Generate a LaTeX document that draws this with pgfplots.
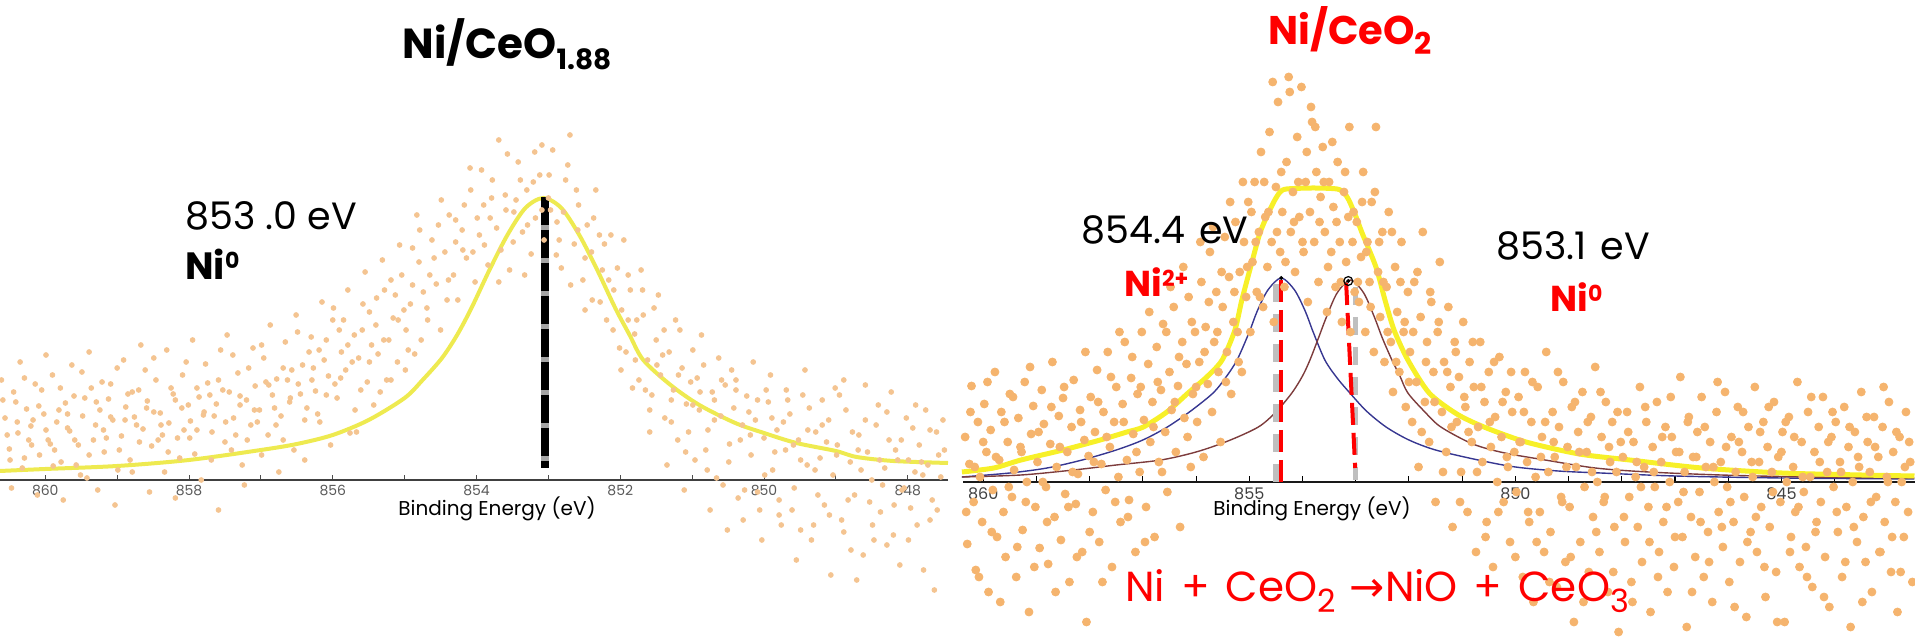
\documentclass[border=0pt]{standalone}
\usepackage{pgfplots}
\pgfplotsset{compat=1.18}
\usepackage{fontspec}
\setmainfont{Poppins}
\newfontfamily\djv{DejaVu Sans}
\definecolor{dotL}{RGB}{244,196,145}
\definecolor{dotR}{RGB}{245,180,110}
\definecolor{yel}{RGB}{247,240,40}
\definecolor{yelL}{RGB}{238,234,80}
\definecolor{niblue}{RGB}{55,55,145}
\definecolor{nibrown}{RGB}{125,60,60}
\definecolor{rd}{RGB}{255,0,0}

\begin{document}
\begin{tikzpicture}[x=1pt,y=1pt]
\useasboundingbox (0,0) rectangle (957.5,320.5);

% ---------- left panel: Ni/CeO1.88 ----------
\begin{axis}[
  at={(0pt,80.5pt)}, anchor=south west,
  scale only axis, width=474pt, height=240pt,
  xmin=847.44, xmax=860.63, ymin=0, ymax=480,
  x dir=reverse, clip=false,
  axis x line*=bottom, axis y line=none, ytick=\empty,
  axis line style={black!75, line width=0.8pt},
  xtick={848,850,...,860}, minor xtick={849,851,...,859},
  tick align=inside, major tick length=2.5pt, minor tick length=2.5pt,
  tick style={black!70, line width=0.5pt},
  xticklabel style={font=\fontsize{7}{7}\selectfont, text=black!65, inner sep=0pt, yshift=-2.5pt, anchor=north},
  /pgf/number format/assume math mode=true,
]
\addplot[only marks, mark=*, mark size=1.2pt, color=dotL] coordinates {
(860.56,62)(860.50,31)(860.44,88)(860.38,47)(860.32,12)(860.26,71)(860.20,54)(860.14,96)(860.08,25)(860.02,66)
(859.96,40)(859.90,105)(859.84,58)(859.78,18)(859.72,77)(859.66,49)(859.60,84)(859.54,35)(859.48,64)(859.42,2)
(859.36,92)(859.30,55)(859.24,70)(859.18,28)(859.12,81)(859.06,60)(859.00,112)(858.94,44)(858.88,73)(858.82,20)
(858.76,63)(858.70,90)(858.64,51)(858.58,79)(858.52,34)(858.46,100)(858.40,67)(858.34,8)(858.28,57)(858.22,86)
(858.16,42)(858.10,72)(858.04,118)(857.98,59)(857.92,26)(857.86,83)(857.80,65)(857.74,97)(857.68,48)(857.62,76)
(857.56,130)(857.50,38)(857.44,88)(857.38,62)(857.32,107)(857.26,15)(857.20,80)(857.14,55)(857.08,94)(857.02,70)
(856.96,122)(856.90,45)(856.84,85)(856.78,101)(856.72,64)(856.66,138)(856.60,78)(856.54,30)(856.48,96)(856.42,115)
(856.36,72)(856.30,143)(856.24,89)(856.18,58)(856.12,120)(856.06,104)(856.00,160)(855.94,82)(855.88,128)(855.82,110)
(855.76,47)(855.70,145)(855.64,122)(855.58,176)(855.52,98)(855.46,135)(855.40,155)(855.34,88)(855.28,190)(855.22,140)
(855.16,162)(855.10,118)(855.04,205)(854.98,150)(854.92,176)(854.86,126)(854.80,218)(854.74,188)(854.68,160)(854.62,240)
(854.56,196)(854.50,150)(854.44,228)(854.38,265)(854.32,205)(854.26,180)(854.20,250)(854.14,222)(854.08,290)(854.02,198)
(853.96,245)(853.90,275)(853.84,215)(853.78,300)(853.72,252)(853.66,230)(853.60,285)(853.54,210)(853.48,268)(853.42,318)
(853.36,248)(853.30,290)(853.24,226)(853.18,262)(853.12,305)(853.06,240)(853.00,282)(852.94,330)(852.88,258)(852.82,212)
(852.76,300)(852.70,345)(852.64,236)(852.58,275)(852.52,200)(852.46,255)(852.40,228)(852.34,290)(852.28,178)(852.22,236)
(852.16,200)(852.10,150)(852.04,212)(851.98,170)(851.92,128)(851.86,190)(851.80,146)(851.74,100)(851.68,165)(851.62,120)
(851.56,85)(851.50,140)(851.44,105)(851.38,62)(851.32,128)(851.26,90)(851.20,40)(851.14,112)(851.08,76)(851.02,98)
(850.96,20)(850.90,70)(850.84,115)(850.78,50)(850.72,88)(850.66,2)(850.60,64)(850.54,95)(850.48,36)(850.42,72)
(850.36,-18)(850.30,55)(850.24,84)(850.18,25)(850.12,60)(850.06,-30)(850.00,42)(849.94,78)(849.88,10)(849.82,50)
(849.76,-45)(849.70,30)(849.64,66)(849.58,-8)(849.52,40)(849.46,85)(849.40,15)(849.34,-60)(849.28,48)(849.22,22)
(849.16,-25)(849.10,60)(849.04,5)(848.98,35)(848.92,-40)(848.86,70)(848.80,18)(848.74,-15)(848.68,45)(848.62,-75)
(848.56,28)(848.50,0)(848.44,55)(848.38,-32)(848.32,12)(848.26,40)(848.20,-55)(848.14,20)(848.08,-10)(848.02,62)
(847.96,-28)(847.90,8)(847.84,35)(847.78,-90)(847.72,15)(847.66,-20)(847.60,48)(847.54,3)
(860.53,45)(860.41,78)(860.29,22)(860.17,60)(860.05,90)(859.93,36)(859.81,70)(859.69,52)(859.57,15)(859.45,82)
(859.33,40)(859.21,98)(859.09,63)(858.97,30)(858.85,86)(858.73,55)(858.61,110)(858.49,68)(858.37,45)(858.25,92)
(858.13,22)(858.01,75)(857.89,50)(857.77,116)(857.65,64)(857.53,90)(857.41,30)(857.29,75)(857.17,112)(857.05,58)
(856.93,98)(856.81,72)(856.69,40)(856.57,110)(856.45,86)(856.33,128)(856.21,66)(856.09,140)(855.97,96)(855.85,160)
(855.73,118)(855.61,90)(855.49,168)(855.37,126)(855.25,100)(855.13,185)(855.01,170)(854.89,232)(854.77,140)(854.65,205)
(854.53,255)(854.41,180)(854.29,238)(854.17,275)(854.05,228)(853.93,310)(853.81,262)(853.69,198)(853.57,326)(853.45,280)
(853.33,205)(853.21,298)(853.09,335)(852.97,270)(852.85,240)(852.73,315)(852.61,290)(852.49,170)(852.37,262)(852.25,210)
(852.13,245)(852.01,132)(851.89,205)(851.77,160)(851.65,90)(851.53,172)(851.41,125)(851.29,58)(851.17,150)(851.05,48)
(850.93,102)(850.81,30)(850.69,80)(850.57,-5)(850.45,110)(850.33,40)(850.21,68)(850.09,-12)(849.97,90)(849.85,28)
(849.73,58)(849.61,-30)(849.49,20)(849.37,72)(849.25,-15)(849.13,38)(849.01,92)(848.89,-52)(848.77,48)(848.65,10)
(848.53,-22)(848.41,75)(848.29,-65)(848.17,30)(848.05,-8)(847.93,52)(847.81,18)(847.69,-40)(847.57,25)
(860.59,80)(860.49,20)(860.39,58)(860.29,102)(860.19,35)(860.09,74)(859.99,50)(859.89,14)(859.79,92)(859.69,66)
(859.59,40)(859.49,108)(859.39,25)(859.29,78)(859.19,50)(859.09,96)(858.99,10)(858.89,60)(858.79,88)(858.69,38)
(858.59,72)(858.49,122)(858.39,55)(858.29,28)(858.19,80)(858.09,105)(857.99,42)(857.89,92)(857.79,68)(857.69,20)
(857.59,100)(857.49,58)(857.39,125)(857.29,84)(857.19,40)(857.09,70)(856.99,135)(856.89,95)(856.79,55)(856.69,112)
(856.59,82)(856.49,148)(856.39,60)(856.29,100)(856.19,130)(856.09,85)(855.99,172)(855.89,102)(855.79,135)(855.69,70)
(855.59,150)(855.49,118)(855.39,182)(855.29,140)(855.19,200)(855.09,160)(854.99,110)(854.89,195)(854.79,250)(854.69,172)
(854.59,222)(854.49,280)(854.39,200)(854.29,260)(854.19,230)(854.09,312)(853.99,262)(853.89,235)(853.79,282)(853.69,340)
(853.59,270)(853.49,238)(853.39,300)(853.29,255)(853.19,328)(853.09,270)(852.99,305)(852.89,225)(852.79,268)(852.69,195)
(852.59,250)(852.49,222)(852.39,180)(852.29,245)(852.19,160)(852.09,190)(851.99,110)(851.89,160)(851.79,120)(851.69,190)
(851.59,70)(851.49,115)(851.39,150)(851.29,80)(851.19,105)(851.09,28)(850.99,130)(850.89,88)(850.79,10)(850.69,60)
(850.59,100)(850.49,18)(850.39,90)(850.29,-40)(850.19,45)(850.09,80)(849.99,5)(849.89,62)(849.79,-20)(849.69,90)
(849.59,35)(849.49,-50)(849.39,50)(849.29,10)(849.19,80)(849.09,-35)(848.99,25)(848.89,100)(848.79,-70)(848.69,30)
(848.59,60)(848.49,-45)(848.39,20)(848.29,68)(848.19,-25)(848.09,40)(847.99,-60)(847.89,75)(847.79,5)(847.69,50)
(847.59,-30)(847.49,30)
(860.61,100)(860.47,-8)(860.35,118)(860.23,40)(860.11,-15)(859.99,125)(859.87,30)(859.75,-20)(859.63,115)(859.51,5)
(859.39,128)(859.27,-10)(859.15,42)(859.03,-25)(858.91,120)(858.79,8)(858.67,135)(858.55,-12)(858.43,40)(858.31,130)
(858.19,-18)(858.07,50)(857.95,140)(857.83,0)(857.71,85)(857.59,-30)(857.47,145)(857.35,45)(857.23,-5)(857.11,132)
(856.99,25)(856.87,155)(856.75,8)(856.63,100)(856.51,165)(856.39,20)(856.27,112)(856.15,178)(856.03,35)(855.91,150)
(855.79,190)(855.67,48)(855.55,208)(855.43,75)(855.31,220)(855.19,100)(855.07,235)(854.95,130)(854.83,265)
(851.95,240)(851.83,92)(851.71,210)(851.59,48)(851.47,185)(851.35,15)(851.23,160)(851.11,-10)(850.99,75)(850.87,145)
(850.75,-30)(850.63,122)(850.51,-50)(850.39,100)(850.27,-10)(850.15,118)(850.03,-60)(849.91,105)(849.79,-35)(849.67,80)
(849.55,-80)(849.43,110)(849.31,-45)(849.19,55)(849.07,-95)(848.95,85)(848.83,-20)(848.71,-100)(848.59,95)(848.47,-60)
(848.35,-5)(848.23,88)(848.11,-85)(847.99,20)(847.87,-45)(847.75,70)(847.63,-110)(847.51,60)
};
% fitted envelope
\addplot[yelL, line width=2pt, smooth, tension=0.5] coordinates {
(860.63,9)(860.0,11)(859.0,14)(858.0,20)(857.0,30)(856.5,36)(856.0,45)(855.5,60)(855.0,82)(854.75,100)
(854.48,122)(854.27,145)(854.07,172)(853.82,210)(853.57,245)(853.32,272)(853.07,282)(852.82,272)(852.57,245)
(852.32,210)(852.07,172)(851.87,145)(851.68,120)(851.3,95)(850.9,75)(850.4,57)(850.0,47)(849.55,37)(849.0,29)
(848.71,23)(848.2,19)(847.44,17)
};
% peak marker
\addplot[black!35, line width=4pt] coordinates {(853.05,283)(853.05,12)};
\addplot[black, line width=4pt, dash pattern=on 14pt off 2.5pt] coordinates {(853.05,283)(853.05,12)};
\end{axis}

% ---------- right panel: Ni/CeO2 ----------
\begin{axis}[
  at={(481.5pt,79.5pt)}, anchor=south west,
  scale only axis, width=476pt, height=241pt,
  xmin=842.49, xmax=860.38, ymin=0, ymax=482,
  x dir=reverse, clip=false,
  axis x line*=bottom, axis y line=none, ytick=\empty,
  axis line style={black!90, line width=1.3pt},
  xtick={845,850,855,860}, minor xtick={843,844,846,847,848,849,851,852,853,854,856,857,858,859},
  tick align=inside, major tick length=3.2pt, minor tick length=3.2pt,
  tick style={black, line width=0.55pt},
  xticklabel style={font=\fontsize{8}{8}\selectfont, text=black!75, inner sep=0pt, yshift=-2.5pt, anchor=north},
  /pgf/number format/assume math mode=true,
]
\addplot[only marks, mark=*, mark size=2pt, color=dotR] coordinates {
(860.34,45)(860.30,-62)(860.26,18)(860.22,96)(860.18,-20)(860.14,-88)(860.10,60)(860.06,5)(860.02,-40)(859.98,78)
(859.94,30)(859.90,-110)(859.86,52)(859.82,-8)(859.78,110)(859.74,-55)(859.70,22)(859.66,70)(859.62,-30)(859.58,-75)
(859.54,40)(859.50,88)(859.46,-15)(859.42,12)(859.38,-95)(859.34,64)(859.30,35)(859.26,-48)(859.22,100)(859.18,0)
(859.14,-130)(859.10,48)(859.06,76)(859.02,-25)(858.98,20)(858.94,-66)(858.90,92)(858.86,58)(858.82,-5)(858.78,-82)
(858.74,38)(858.70,120)(858.66,-35)(858.62,15)(858.58,66)(858.54,-58)(858.50,84)(858.46,-12)(858.42,30)(858.38,-100)
(858.34,55)(858.30,102)(858.26,-22)(858.22,8)(858.18,72)(858.14,-70)(858.10,42)(858.06,-140)(858.02,26)
(857.98,85)(857.94,-30)(857.90,50)(857.86,112)(857.82,-60)(857.78,18)(857.74,70)(857.70,-8)(857.66,130)(857.62,35)
(857.58,-85)(857.54,60)(857.50,95)(857.46,5)(857.42,-40)(857.38,78)(857.34,140)(857.30,22)(857.26,-18)(857.22,104)
(857.18,48)(857.14,-70)(857.10,88)(857.06,10)(857.02,150)(856.98,62)(856.94,-25)(856.90,118)(856.86,40)(856.82,80)
(856.78,-55)(856.74,135)(856.70,20)(856.66,92)(856.62,158)(856.58,50)(856.54,-10)(856.50,110)(856.46,72)(856.42,175)
(856.38,30)(856.34,96)(856.30,-45)(856.26,140)(856.22,64)(856.18,118)(856.14,185)(856.10,15)(856.06,88)(856.02,150)
(855.98,60)(855.94,120)(855.90,200)(855.86,25)(855.82,155)(855.78,98)(855.74,230)(855.70,70)(855.66,140)(855.62,190)
(855.58,110)(855.54,40)(855.50,175)(855.46,245)(855.42,130)(855.38,205)(855.34,88)(855.30,160)(855.26,260)(855.22,150)
(855.18,210)(855.14,110)(855.10,240)(855.06,185)(855.02,280)
(854.98,150)(854.94,220)(854.90,300)(854.86,190)(854.82,250)(854.78,330)(854.74,175)(854.70,265)(854.66,215)(854.62,350)
(854.58,240)(854.54,160)(854.50,295)(854.46,380)(854.42,230)(854.38,270)(854.34,195)(854.30,320)(854.26,405)(854.22,250)
(854.18,290)(854.14,210)(854.10,345)(854.06,265)(854.02,395)(853.98,230)(853.94,300)(853.90,180)(853.86,270)(853.82,360)
(853.78,240)(853.74,310)(853.70,200)(853.66,285)(853.62,335)(853.58,250)(853.54,170)(853.50,300)(853.46,230)(853.42,275)
(853.38,195)(853.34,320)(853.30,240)(853.26,160)(853.22,290)(853.18,220)(853.14,265)(853.10,150)(853.06,240)(853.02,190)
(852.98,260)(852.94,180)(852.90,225)(852.86,310)(852.82,150)(852.78,240)(852.74,200)(852.70,280)(852.66,130)(852.62,355)
(852.58,210)(852.54,165)(852.50,250)(852.46,120)(852.42,195)(852.38,270)(852.34,140)(852.30,90)(852.26,215)(852.22,170)
(852.18,110)(852.14,240)(852.10,150)(852.06,75)(852.02,190)
(851.98,130)(851.94,60)(851.90,200)(851.86,100)(851.82,15)(851.78,165)(851.74,250)(851.70,80)(851.66,140)(851.62,40)
(851.58,180)(851.54,110)(851.50,-20)(851.46,150)(851.42,220)(851.38,70)(851.34,120)(851.30,30)(851.26,175)(851.22,95)
(851.18,-45)(851.14,140)(851.10,60)(851.06,105)(851.02,10)(850.98,160)(850.94,75)(850.90,-30)(850.86,120)(850.82,40)
(850.78,95)(850.74,-70)(850.70,55)(850.66,140)(850.62,20)(850.58,80)(850.54,-40)(850.50,110)(850.46,35)(850.42,-85)
(850.38,65)(850.34,0)(850.30,125)(850.26,45)(850.22,-20)(850.18,90)(850.14,15)(850.10,-60)(850.06,70)(850.02,30)
(849.98,-10)(849.94,85)(849.90,40)(849.86,-95)(849.82,110)(849.78,20)(849.74,-40)(849.70,60)(849.66,-120)(849.62,5)
(849.58,95)(849.54,-30)(849.50,45)(849.46,-70)(849.42,130)(849.38,10)(849.34,-50)(849.30,70)(849.26,25)(849.22,-105)
(849.18,55)(849.14,-15)(849.10,100)(849.06,-80)(849.02,35)(848.98,-25)(848.94,75)(848.90,-140)(848.86,15)(848.82,50)
(848.78,-60)(848.74,90)(848.70,-5)(848.66,30)(848.62,-90)(848.58,65)(848.54,-35)(848.50,115)(848.46,0)(848.42,-70)
(848.38,45)(848.34,-20)(848.30,80)(848.26,-110)(848.22,20)(848.18,60)(848.14,-45)(848.10,10)(848.06,-150)(848.02,40)
(847.98,25)(847.94,-60)(847.90,70)(847.86,-15)(847.82,-100)(847.78,40)(847.74,5)(847.70,-45)(847.66,95)(847.62,-80)
(847.58,15)(847.54,60)(847.50,-25)(847.46,-130)(847.42,35)(847.38,-5)(847.34,80)(847.30,-70)(847.26,20)(847.22,-40)
(847.18,55)(847.14,-110)(847.10,0)(847.06,45)(847.02,-85)(846.98,30)(846.94,-20)(846.90,105)(846.86,-55)(846.82,10)
(846.78,-145)(846.74,65)(846.70,-35)(846.66,25)(846.62,-75)(846.58,50)(846.54,-10)(846.50,85)(846.46,-95)(846.42,15)
(846.38,-50)(846.34,40)(846.30,-120)(846.26,0)(846.22,70)(846.18,-30)(846.14,20)(846.10,-65)(846.06,90)(846.02,-5)
(845.98,-100)(845.94,45)(845.90,-40)(845.86,10)(845.82,75)(845.78,-80)(845.74,30)(845.70,-15)(845.66,-135)(845.62,55)
(845.58,-50)(845.54,5)(845.50,95)(845.46,-70)(845.42,20)(845.38,-25)(845.34,60)(845.30,-115)(845.26,35)(845.22,-45)
(845.18,10)(845.14,80)(845.10,-90)(845.06,25)(845.02,-20)(844.98,50)(844.94,-140)(844.90,0)(844.86,65)(844.82,-55)
(844.78,15)(844.74,-30)(844.70,100)(844.66,-85)(844.62,40)(844.58,-10)(844.54,-65)(844.50,70)(844.46,5)(844.42,-105)
(844.38,30)(844.34,-40)(844.30,55)(844.26,-20)(844.22,85)(844.18,-75)(844.14,10)(844.10,-125)(844.06,45)(844.02,-5)
(843.98,60)(843.94,-50)(843.90,20)(843.86,-95)(843.82,75)(843.78,-25)(843.74,35)(843.70,-145)(843.66,0)(843.62,50)
(843.58,-60)(843.54,15)(843.50,90)(843.46,-35)(843.42,-80)(843.38,40)(843.34,10)(843.30,-110)(843.26,65)(843.22,-15)
(843.18,25)(843.14,-70)(843.10,55)(843.06,-40)(843.02,5)(842.98,80)(842.94,-90)(842.90,30)(842.86,-20)(842.82,-130)
(842.78,45)(842.74,0)(842.70,-55)(842.66,70)(842.62,-30)(842.58,20)(842.54,-100)
(860.32,-30)(860.24,70)(860.16,15)(860.08,-95)(860.00,40)(859.92,100)(859.84,-50)(859.76,25)(859.68,-120)(859.60,60)
(859.52,-5)(859.44,85)(859.36,-65)(859.28,30)(859.20,-20)(859.12,115)(859.04,-85)(858.96,50)(858.88,0)(858.80,-40)
(858.72,75)(858.64,-110)(858.56,35)(858.48,95)(858.40,-25)(858.32,10)(858.24,-75)(858.16,60)(858.08,130)(858.00,-50)
(857.92,20)(857.84,80)(857.76,-100)(857.68,45)(857.60,105)(857.52,-20)(857.44,150)(857.36,60)(857.28,-35)(857.20,125)
(857.12,30)(857.04,95)(856.96,-60)(856.88,170)(856.80,55)(856.72,100)(856.64,10)(856.56,150)(856.48,195)(856.40,80)
(856.32,125)(856.24,215)(856.16,45)(856.08,160)(856.00,95)(855.92,240)(855.84,130)(855.76,180)(855.68,255)(855.60,150)
(855.52,210)(855.44,100)(855.36,280)(855.28,190)(855.20,120)(855.12,300)(855.04,215)(854.96,270)(854.88,240)(854.80,185)
(854.72,300)(854.64,270)(854.56,400)(854.48,250)(854.40,310)(854.32,220)(854.24,390)(854.16,260)(854.08,300)(854.00,240)
(853.92,330)(853.84,375)(853.76,355)(853.68,260)(853.60,300)(853.52,215)(853.44,340)(853.36,260)(853.28,200)(853.20,310)
(853.12,355)(853.04,270)(852.96,200)(852.88,280)(852.80,230)(852.72,175)(852.64,290)(852.56,240)(852.48,200)(852.40,150)
(852.32,250)(852.24,120)(852.16,200)(852.08,160)(852.00,100)(851.92,150)(851.84,210)(851.76,50)(851.68,120)(851.60,190)
(851.52,80)(851.44,160)(851.36,10)(851.28,110)(851.20,55)(851.12,130)(851.04,-20)(850.96,85)(850.88,50)(850.80,140)
(850.72,10)(850.64,95)(850.56,-55)(850.48,60)(850.40,120)(850.32,-30)(850.24,80)(850.16,25)(850.08,110)(850.00,-75)
(849.92,40)(849.84,70)(849.76,-30)(849.68,100)(849.60,-60)(849.52,25)(849.44,60)(849.36,-100)(849.28,40)(849.20,110)
(849.12,-20)(849.04,15)(848.96,-75)(848.88,80)(848.80,30)(848.72,-120)(848.64,60)(848.56,10)(848.48,-50)(848.40,90)
(848.32,-15)(848.24,35)(848.16,-90)(848.08,70)(847.96,-35)(847.88,50)(847.80,-120)(847.72,20)(847.64,-5)(847.56,75)
(847.48,-60)(847.40,10)(847.32,-95)(847.24,45)(847.16,-25)(847.08,85)(847.00,-55)(846.92,30)(846.84,-10)(846.76,60)
(846.68,-110)(846.60,25)(846.52,-40)(846.44,55)(846.36,-80)(846.28,15)(846.20,100)(846.12,-45)(846.04,35)(845.96,-20)
(845.88,-125)(845.80,40)(845.72,70)(845.64,-60)(845.56,20)(845.48,-35)(845.40,50)(845.32,-85)(845.24,75)(845.16,-10)
(845.08,-140)(845.00,30)(844.92,60)(844.84,-70)(844.76,45)(844.68,-25)(844.60,5)(844.52,-95)(844.44,85)(844.36,-50)
(844.28,20)(844.20,-115)(844.12,40)(844.04,70)(843.96,-30)(843.88,10)(843.80,-80)(843.72,55)(843.64,-45)(843.56,25)
(843.48,-120)(843.40,65)(843.32,-20)(843.24,35)(843.16,-70)(843.08,95)(843.00,0)(842.92,-55)(842.84,50)(842.76,-90)
(842.68,15)(842.60,40)
};
% Ni2+ component
\addplot[niblue, line width=0.7pt, smooth, tension=0.5] coordinates {
(860.4,5)(859.5,9)(858.8,14)(858.14,22)(857.5,32)(857.0,42)(856.54,55)(856.1,71)(855.68,89)(855.45,104)
(855.23,122)(855.0,150)(854.85,171)(854.65,192)(854.4,204)(854.15,192)(853.95,171)(853.8,150)(853.58,122)
(853.35,104)(853.11,89)(852.8,71)(852.43,55)(852.0,42)(851.5,32)(850.7,22)(850.0,15)(849.2,11)(848.4,9)
(847,6)(845,4)(842.5,3)
};
% Ni0 component
\addplot[nibrown, line width=0.7pt, smooth, tension=0.5] coordinates {
(860.4,5)(859.29,7)(858.3,12)(857.5,17)(856.66,22)(856.0,30)(855.4,41)(854.83,55)(854.5,70)(854.2,89)
(854.0,106)(853.86,122)(853.7,144)(853.55,165)(853.35,189)(853.1,202)(852.85,189)(852.65,165)(852.5,144)
(852.32,122)(852.17,106)(852.02,89)(851.7,70)(851.4,55)(850.8,38)(850.2,29)(849.44,22)(848.5,14)(847.5,10)
(846.14,7)(844.5,5)(842.5,4)
};
% envelope
\addplot[yel, line width=2.5pt, smooth, tension=0.45] coordinates {
(860.4,10)(859.8,14)(859.29,22)(858.5,32)(857.8,42)(857.3,50)(856.99,55)(856.55,70)(856.15,89)(855.8,105)
(855.51,122)(855.27,152)(855.14,182)(854.95,220)(854.80,249)(854.65,268)(854.52,282)(854.42,290)(854.30,293)
(853.80,294)(853.35,293)(853.22,289)(853.13,282)(853.0,266)(852.88,249)(852.62,215)(852.45,182)(852.28,152)
(852.02,122)(851.62,89)(851.1,68)(850.59,55)(849.8,40)(848.8,28)(847.85,22)(846.5,14)(844.99,9)(843.5,7)(842.5,6)
};
% peak position markers
\addplot[black!25, line width=2.6pt, dash pattern=on 9pt off 6pt] coordinates {(854.50,198)(854.50,-2)};
\addplot[black!25, line width=2.6pt, dash pattern=on 9pt off 6pt] coordinates {(853.01,195)(853.01,2)};
\addplot[rd, line width=2pt, dash pattern=on 11pt off 4pt] coordinates {(854.40,202)(854.40,-2)};
\addplot[rd, line width=2pt, dash pattern=on 11pt off 4pt] coordinates {(853.18,199)(853.01,14)};
\addplot[only marks, mark=o, mark size=2.2pt, black, line width=0.6pt] coordinates {(853.14,201)};
\addplot[only marks, mark=*, mark size=0.8pt, black] coordinates {(853.14,201)(854.40,204)};
\end{axis}

% ---------- texts ----------
\node[anchor=base, inner sep=0pt] at (253.5,291) {\fontsize{21}{21}\selectfont\bfseries Ni/CeO\raisebox{-5.5pt}{\fontsize{14}{14}\selectfont 1.88}};
\node[anchor=base west, inner sep=0pt] at (92.5,205.5) {\fontsize{19}{19}\selectfont 853 .0 eV};
\node[anchor=base west, inner sep=0pt] at (92.5,180.5) {\fontsize{19}{19}\selectfont\bfseries Ni\raisebox{5.6pt}{\fontsize{11}{11}\selectfont 0}};
\node[anchor=base, inner sep=0pt] at (248.5,62.5) {\fontsize{10}{10}\selectfont Binding Energy (eV)};

\node[anchor=base, inner sep=0pt, text=rd] at (675,298) {\fontsize{20}{20}\selectfont\bfseries Ni/CeO\raisebox{-5pt}{\fontsize{15}{15}\selectfont 2}};
\node[anchor=base west, inner sep=0pt] at (540.5,198.5) {\fontsize{19}{19}\selectfont 854.4\hspace{2pt} eV};
\node[anchor=base west, inner sep=0pt, text=rd] at (562,172) {\fontsize{18}{18}\selectfont\bfseries Ni\raisebox{5pt}{\fontsize{11}{11}\selectfont 2+}};
\node[anchor=base west, inner sep=0pt] at (748,190.5) {\fontsize{19}{19}\selectfont 853.1\hspace{2pt} eV};
\node[anchor=base west, inner sep=0pt, text=rd] at (775,164.5) {\fontsize{18}{18}\selectfont\bfseries Ni\raisebox{5pt}{\fontsize{11}{11}\selectfont 0}};
\node[anchor=base, inner sep=0pt] at (656,62.5) {\fontsize{10}{10}\selectfont Binding Energy (eV)};
\node[anchor=base west, inner sep=0pt, text=rd] at (562.5,19.5) {\fontsize{21}{21}\selectfont Ni\hspace{8pt}+\hspace{8pt}CeO\raisebox{-5.5pt}{\fontsize{16}{16}\selectfont 2}\hspace{7pt}{\djv →}NiO\hspace{8pt}+\hspace{8pt}CeO\raisebox{-5.5pt}{\fontsize{16}{16}\selectfont 3}};
\end{tikzpicture}
\end{document}
